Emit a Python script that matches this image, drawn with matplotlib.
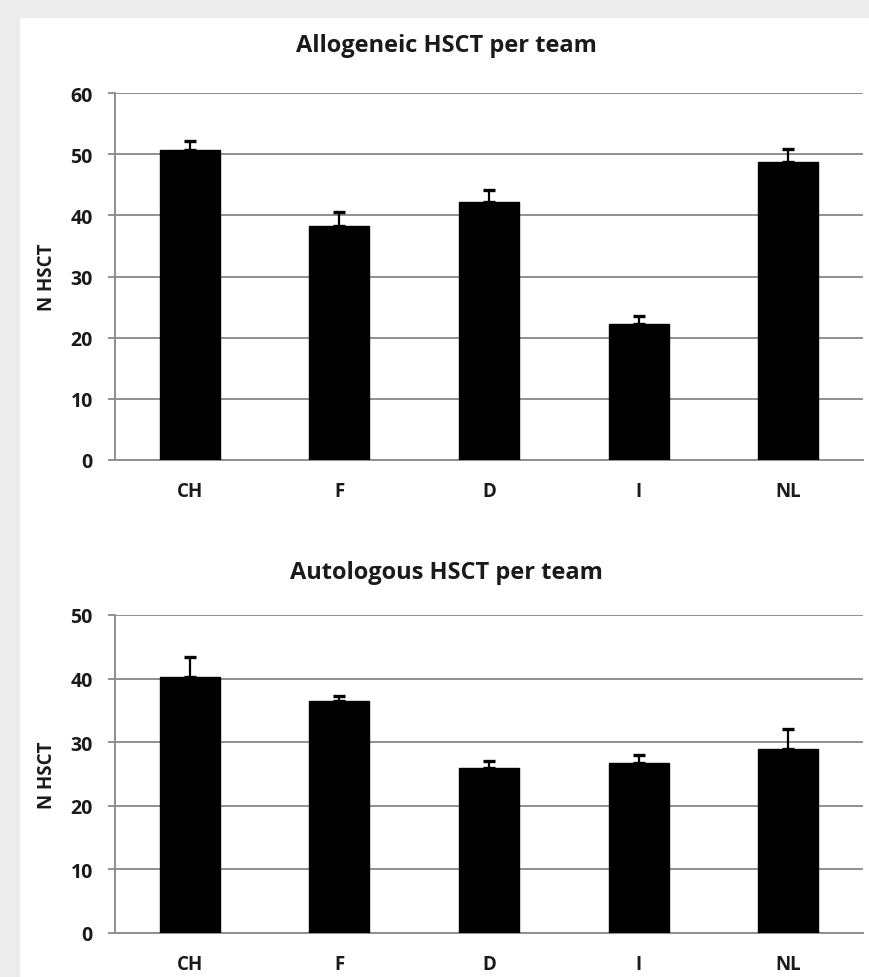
import matplotlib
matplotlib.use("Agg")
import matplotlib.pyplot as plt
from matplotlib.patches import Rectangle

plt.rcParams['font.family'] = ['Open Sans', 'DejaVu Sans']

teams = ["CH", "F", "D", "I", "NL"]

allo_mean = [50.6, 38.2, 42.2, 22.3, 48.8]
allo_err = [1.5, 2.4, 1.9, 1.3, 2.1]

auto_mean = [40.3, 36.4, 25.9, 26.8, 28.9]
auto_err = [3.1, 0.8, 1.2, 1.2, 3.2]

allo_yticks = [0, 10, 20, 30, 40, 50, 60]
auto_yticks = [0, 10, 20, 30, 40, 50]

W, H = 869, 978
fig = plt.figure(figsize=(W / 100, H / 100), dpi=100)
fig.patch.set_facecolor("#ececec")
fig.patches.append(Rectangle((20 / W, 0), 1 - 20 / W, 1 - 19 / H,
                             transform=fig.transFigure, facecolor="white",
                             edgecolor="none", zorder=-10))

GRID = "#8f8f8f"
TEXT = "#1a1a1a"


def panel(rect, means, errs, yticks, title, title_y):
    ax = fig.add_axes(rect)
    ax.set_facecolor("none")
    x = list(range(len(teams)))
    ax.bar(x, means, width=0.4, color="black", edgecolor="black", zorder=3)
    ax.errorbar(x, means, yerr=[[0] * len(errs), errs], fmt="none",
                ecolor="black", elinewidth=1.6, capsize=4.5, capthick=2.4,
                zorder=4)
    ax.set_xlim(-0.5, len(teams) - 0.5)
    ax.set_ylim(yticks[0], yticks[-1])
    ax.set_yticks(yticks)
    ax.set_xticks(x)
    ax.set_xticklabels(teams)
    ax.yaxis.grid(True, color=GRID, linewidth=1.4, zorder=0)
    ax.set_axisbelow(True)
    for s in ("top", "right"):
        ax.spines[s].set_visible(False)
    for s in ("left", "bottom"):
        ax.spines[s].set_color(GRID)
        ax.spines[s].set_linewidth(1.4)
    ax.tick_params(axis="y", length=5, width=1.4, color=GRID, pad=11,
                   labelsize=14, labelcolor=TEXT)
    ax.tick_params(axis="x", length=0, pad=15, labelsize=13.5,
                   labelcolor=TEXT)
    for lab in ax.get_xticklabels() + ax.get_yticklabels():
        lab.set_fontweight("bold")
    ax.set_ylabel("N HSCT", fontsize=13.5, fontweight="bold", color=TEXT)
    ax.yaxis.set_label_coords(-(115 - 57) / (rect[2] * W), 0.5)
    fig.text(446 / W, 1 - title_y / H, title, ha="center", va="center",
             fontsize=17, fontweight="bold", color=TEXT)
    return ax


panel([115 / W, 1 - 461 / H, (863 - 115) / W, (461 - 94) / H],
      allo_mean, allo_err, allo_yticks, "Allogeneic HSCT per team", 46)
panel([115 / W, 1 - 934 / H, (863 - 115) / W, (934 - 616) / H],
      auto_mean, auto_err, auto_yticks, "Autologous HSCT per team", 573)

fig.savefig("out.png", dpi=100, facecolor=fig.get_facecolor())
